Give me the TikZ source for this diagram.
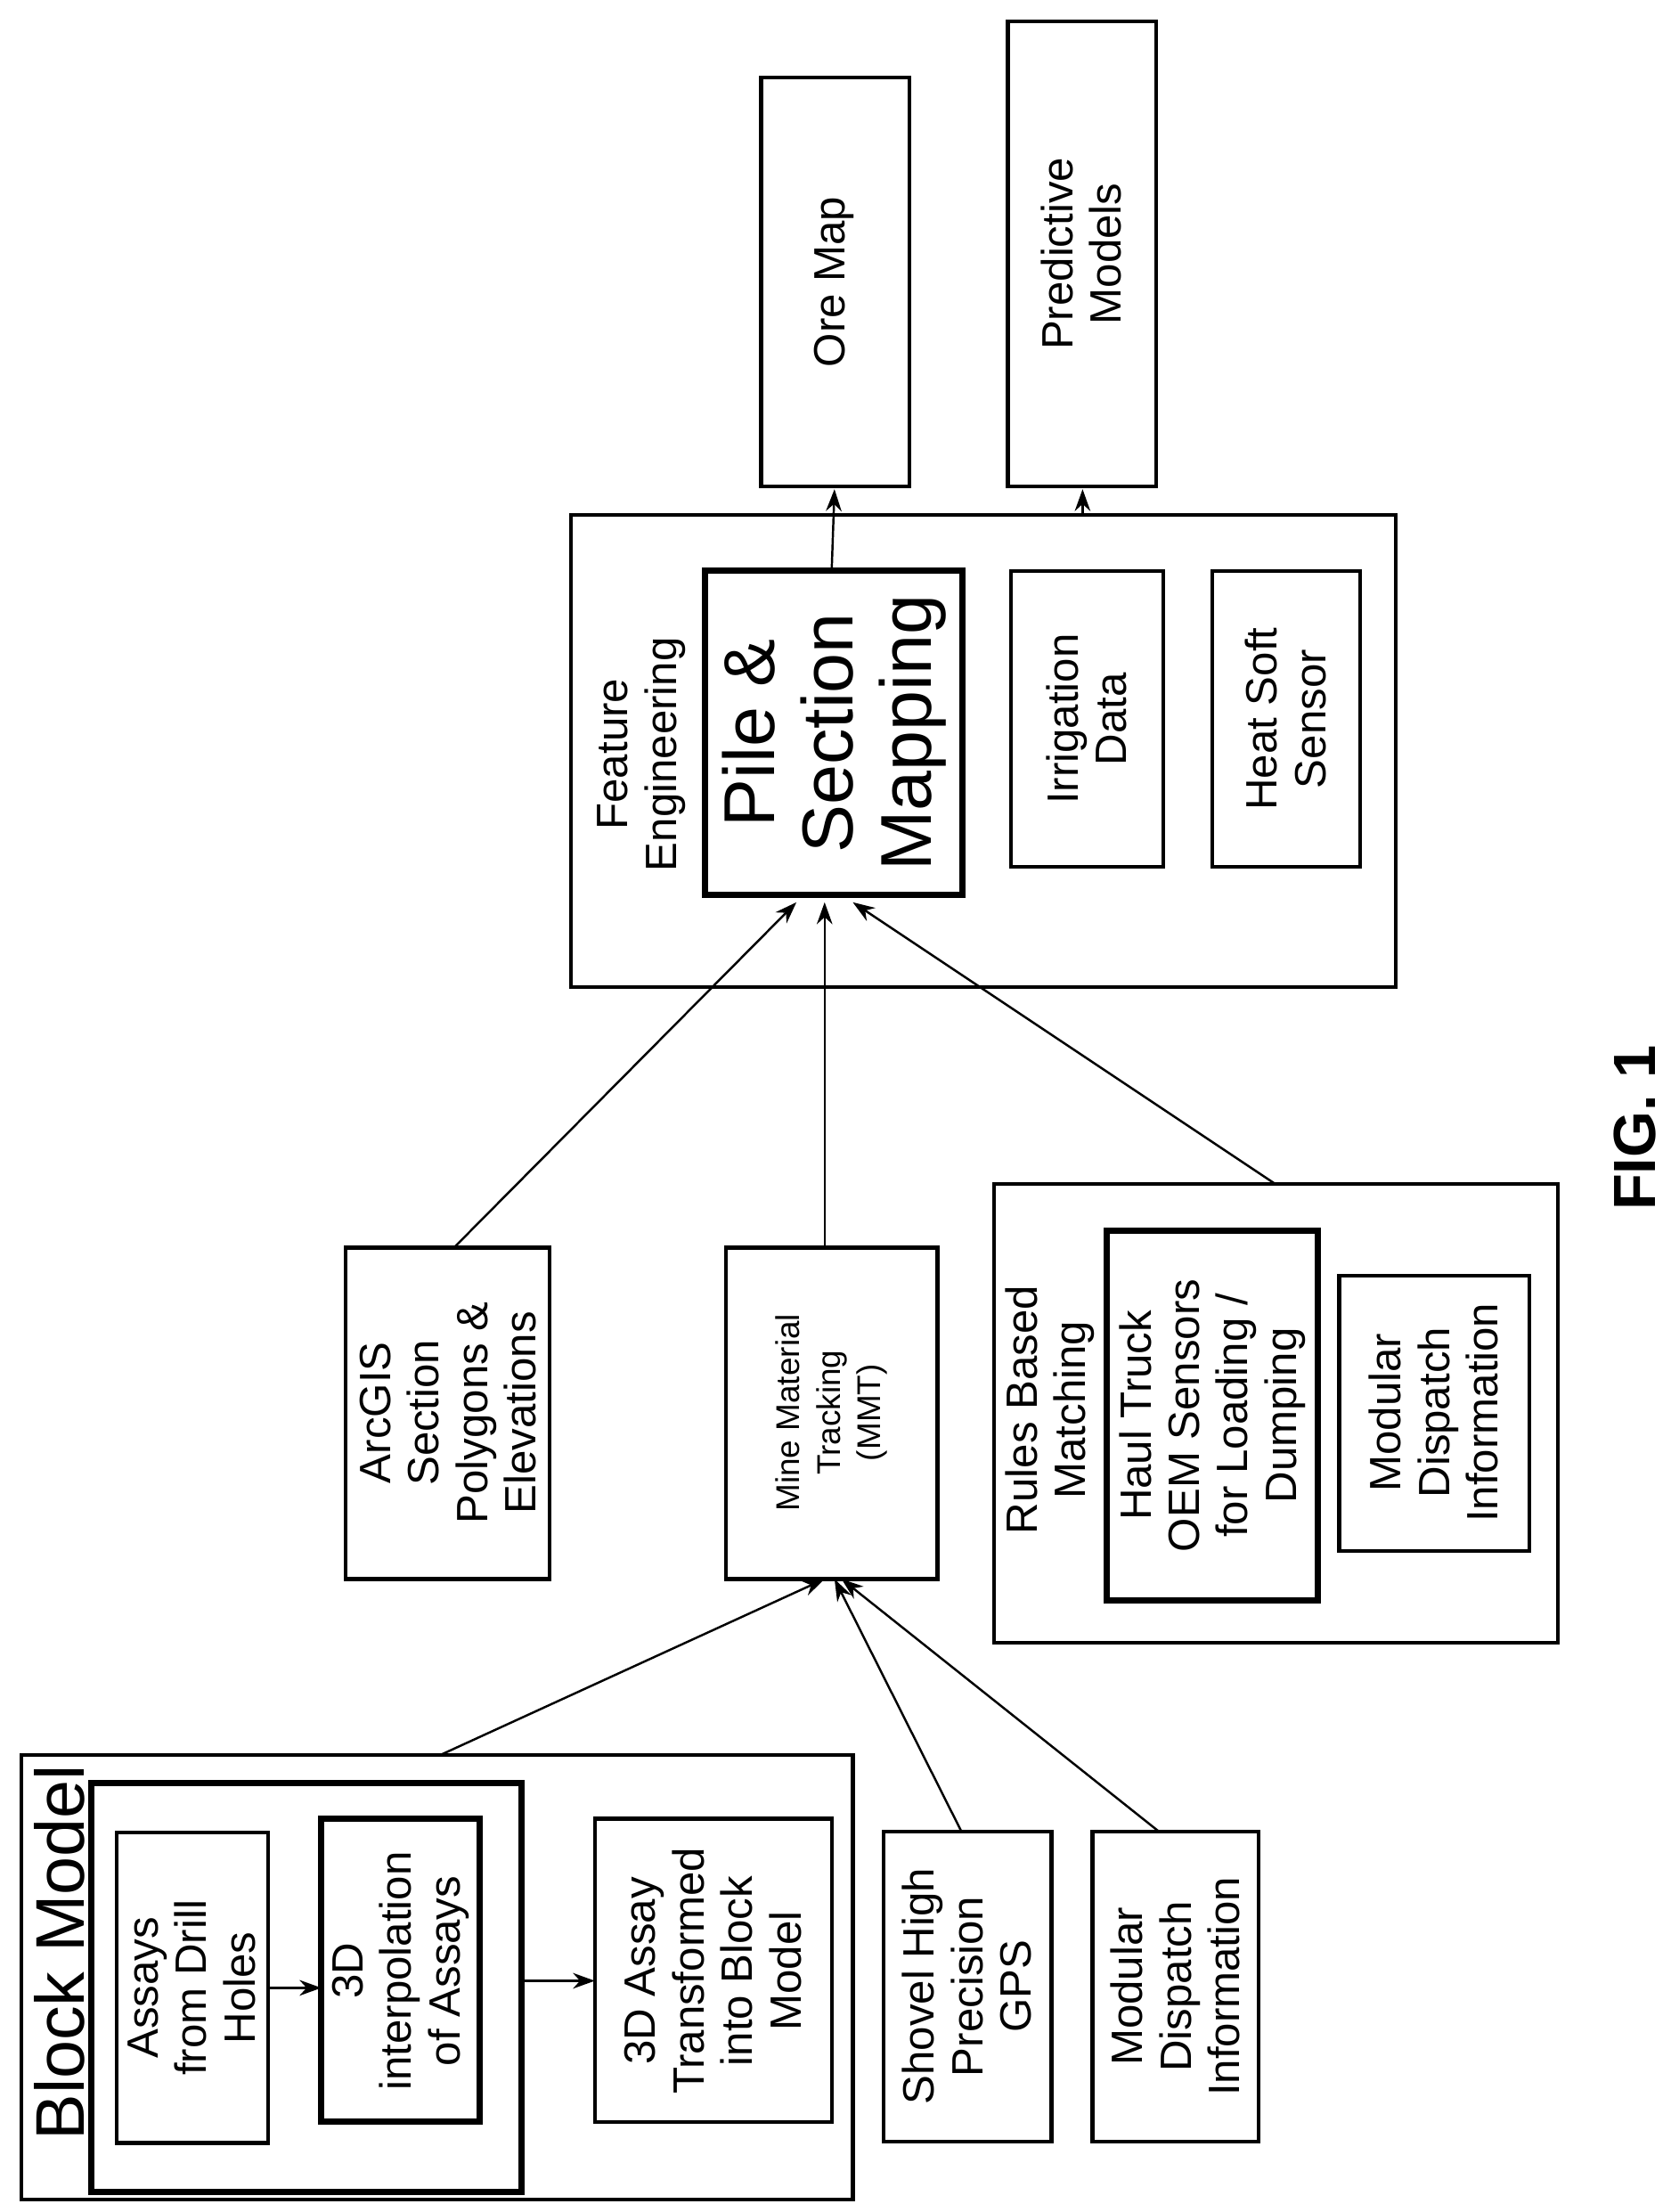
\documentclass[tikz,border=0pt]{standalone}
\usepackage{fontspec}
\setmainfont{Liberation Sans}
\usetikzlibrary{arrows.meta}
\begin{document}
\begin{tikzpicture}[x=0.01582cm,y=-0.01582cm,
 box/.style={draw,line width=1.2pt},
 tk/.style={draw,line width=2pt},
 lbl/.style={rotate=90,align=center,font=\fontsize{14}{15.5}\selectfont},
 arr/.style={-{Stealth[length=7pt,width=5pt]},line width=0.7pt}]
\useasboundingbox (0,0) rectangle (1185,1569);
% Block model
\draw[box] (15,1245) rectangle (605,1560);
\node[lbl,font=\fontsize{22}{24}\selectfont] (bmt) at (42,1385) {Block Model};
\draw[tk] (65,1265) rectangle (370,1555);
\draw[box] (83,1300) rectangle (190,1520);
\node[lbl] (ass) at (136,1410) {Assays\\from Drill\\Holes};
\draw[tk] (228,1290) rectangle (340,1505);
\node[lbl] (interp) at (284,1398) {3D\\interpolation\\of Assays};
\draw[box] (422,1290) rectangle (590,1505);
\node[lbl] (trans) at (506,1398) {3D Assay\\Transformed\\into Block\\Model};
\coordinate (a1) at (190,1410); \coordinate (a2) at (228,1410);
\draw[arr] (a1) -- (a2);
\coordinate (b1) at (370,1405); \coordinate (b2) at (422,1405);
\draw[arr] (b1) -- (b2);
% shovel etc
\draw[box] (627,1299) rectangle (746,1519);
\node[lbl] (shov) at (686,1409) {Shovel High\\Precision\\GPS};
\draw[box] (775,1299) rectangle (893,1519);
\node[lbl] (mod1) at (834,1409) {Modular\\Dispatch\\Information};
% middle
\draw[box] (245,885) rectangle (390,1120);
\node[lbl] (arc) at (318,1002) {ArcGIS\\Section\\Polygons \&\\Elevations};
\draw[box] (515,885) rectangle (665,1120);
\node[lbl,font=\fontsize{10.5}{13}\selectfont] (mmt) at (590,1002) {Mine Material\\Tracking\\(MMT)};
\draw[box] (705,840) rectangle (1105,1165);
\node[lbl] (rules) at (745,1000) {Rules Based\\Matching};
\draw[tk] (785,873) rectangle (935,1135);
\node[lbl] (haul) at (860,1004) {Haul Truck\\OEM Sensors\\for Loading /\\Dumping};
\draw[box] (950,905) rectangle (1085,1100);
\node[lbl] (mod2) at (1017,1002) {Modular\\Dispatch\\Information};
% feature engineering
\draw[box] (405,365) rectangle (990,700);
\node[lbl] (fe) at (455,535) {Feature\\Engineering};
\draw[tk] (500,405) rectangle (683,635);
\node[lbl,font=\fontsize{23}{25}\selectfont] (pile) at (592,520) {Pile \&\\Section\\Mapping};
\draw[box] (717,405) rectangle (825,615);
\node[lbl] (irr) at (771,510) {Irrigation\\Data};
\draw[box] (860,405) rectangle (965,615);
\node[lbl] (heat) at (912,510) {Heat Soft\\Sensor};
% outputs
\draw[box] (540,55) rectangle (645,345);
\node[lbl] (ore) at (592,200) {Ore Map};
\draw[box] (715,15) rectangle (820,345);
\node[lbl] (pred) at (767,180) {Predictive\\Models};
\node[rotate=90,font=\fontsize{19}{21}\selectfont\bfseries] (fig) at (1160,800) {FIG. 1};
% arrows
\coordinate (c1) at (312,1245); \coordinate (m1) at (585,1120);
\coordinate (c2) at (682,1299); \coordinate (m2) at (592,1120);
\coordinate (c3) at (822,1299); \coordinate (m3) at (597,1120);
\draw[arr] (c1) -- (m1); \draw[arr] (c2) -- (m2); \draw[arr] (c3) -- (m3);
\coordinate (d1) at (322,885); \coordinate (p1) at (565,640);
\coordinate (d2) at (585,885); \coordinate (p2) at (585,640);
\coordinate (d3) at (905,840); \coordinate (p3) at (605,640);
\draw[arr] (d1) -- (p1); \draw[arr] (d2) -- (p2); \draw[arr] (d3) -- (p3);
\coordinate (e1) at (590,405); \coordinate (e2) at (592,347);
\draw[arr] (e1) -- (e2);
\coordinate (f1) at (768,365); \coordinate (f2) at (768,347);
\draw[arr] (f1) -- (f2);
\end{tikzpicture}
\end{document}
